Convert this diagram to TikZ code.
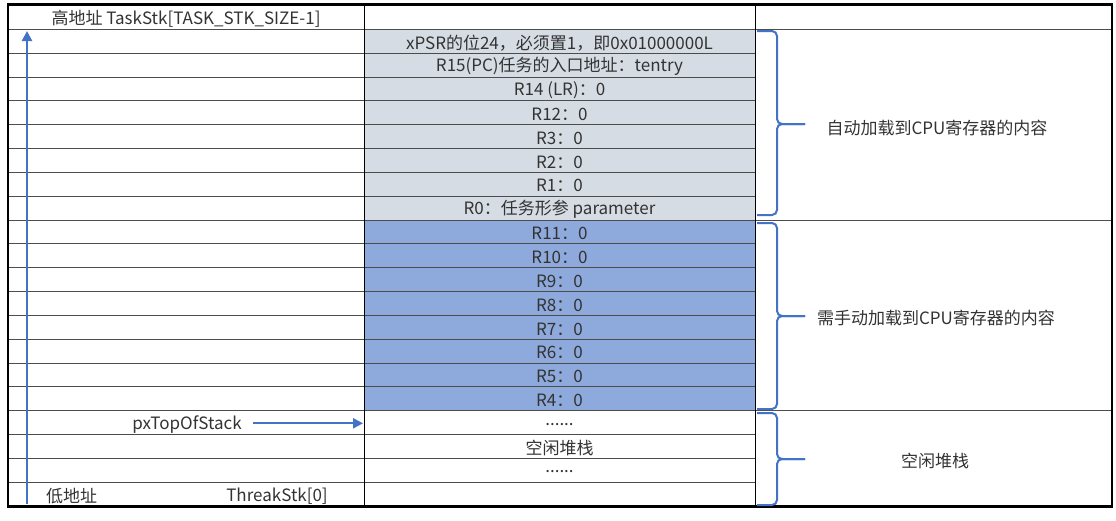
\documentclass[tikz,border=0pt]{standalone}
\usepackage{fontspec}
\setmainfont{Noto Sans CJK SC}
\usetikzlibrary{arrows.meta}
\definecolor{grayfill}{HTML}{D6DCE4}
\definecolor{bluefill}{HTML}{8EA9DB}
\definecolor{arrowblue}{HTML}{4472C4}
\definecolor{txt}{HTML}{333333}
\begin{document}
\begin{tikzpicture}[x=1pt,y=-1pt,
  cell/.style={font=\fontsize{17}{20}\selectfont, text=txt, inner sep=0pt, anchor=center},
  gridline/.style={draw=black!70, line width=0.9pt},
  bracepath/.style={draw=arrowblue, line width=2pt, rounded corners=5pt},
  ptr/.style={draw=arrowblue, line width=2.2pt, -{Triangle[length=10pt,width=10pt]}}
]
\useasboundingbox (0,0) rectangle (1116,520);
\fill[white] (0,0) rectangle (1116,520);
% fills
\fill[grayfill] (364,29.3) rectangle (755,220);
\fill[bluefill] (364,220) rectangle (755,410.7);
% grid
\foreach \k in {0,...,19} {
  \pgfmathsetmacro\yy{29.3+23.84*\k}
  \draw[gridline] (8,\yy) -- (755,\yy);
}
\foreach \k in {0,8,16} {
  \pgfmathsetmacro\yy{29.3+23.84*\k}
  \draw[gridline] (755,\yy) -- (1112,\yy);
}
\draw[black, line width=0.9pt] (364,4.5) -- (364,506.5);
\draw[black, line width=0.9pt] (755,4.5) -- (755,506.5);
\draw[black, line width=2.4pt] (8,4.5) rectangle (1112,506.5);
% cell texts
\foreach \k/\t in {0/{xPSR的位24，必须置1，即0x01000000L},
  1/{R15(PC)任务的入口地址：tentry},
  2/{R14 (LR)：0}, 3/{R12：0}, 4/{R3：0}, 5/{R2：0}, 6/{R1：0},
  7/{R0：任务形参 parameter},
  8/{R11：0}, 9/{R10：0}, 10/{R9：0}, 11/{R8：0}, 12/{R7：0},
  13/{R6：0}, 14/{R5：0}, 15/{R4：0},
  16/{......}, 17/{空闲堆栈}, 18/{......}} {
  \pgfmathsetmacro\yy{29.3+23.84*\k+13.5}
  \node[cell] (r\k) at (559.5,\yy) {\t};
}
% left column texts
\node[cell] (high) at (186,18.5) {高地址 TaskStk[TASK\_STK\_SIZE-1]};
\node[cell] (ptrlabel) at (187,425) {pxTopOfStack};
\node[cell, anchor=west] (low) at (46,496) {低地址};
\node[cell] (base) at (277,496) {ThreakStk[0]};
% arrows
\coordinate (lowend) at (27,504);
\coordinate (highend) at (27,31);
\draw[ptr] (lowend) -- (highend);
\coordinate (ptrstart) at (253,423.3);
\coordinate (ptrtip) at (363,423.3);
\draw[ptr] (ptrstart) -- (ptrtip);
% braces
\draw[bracepath] (757,31) -| (777,124) -- (805,124);
\draw[bracepath] (757,215) -| (777,124) -- (805,124);
\draw[bracepath] (757,223) -| (777,316) -- (805,316);
\draw[bracepath] (757,409) -| (777,316) -- (805,316);
\draw[bracepath] (757,413) -| (777,459) -- (805,459);
\draw[bracepath] (757,505) -| (777,459) -- (805,459);
% brace labels
\node[cell] (auto) at (937,128) {自动加载到CPU寄存器的内容};
\node[cell] (manual) at (936,318) {需手动加载到CPU寄存器的内容};
\node[cell] (free) at (935,461) {空闲堆栈};
\end{tikzpicture}
\end{document}
